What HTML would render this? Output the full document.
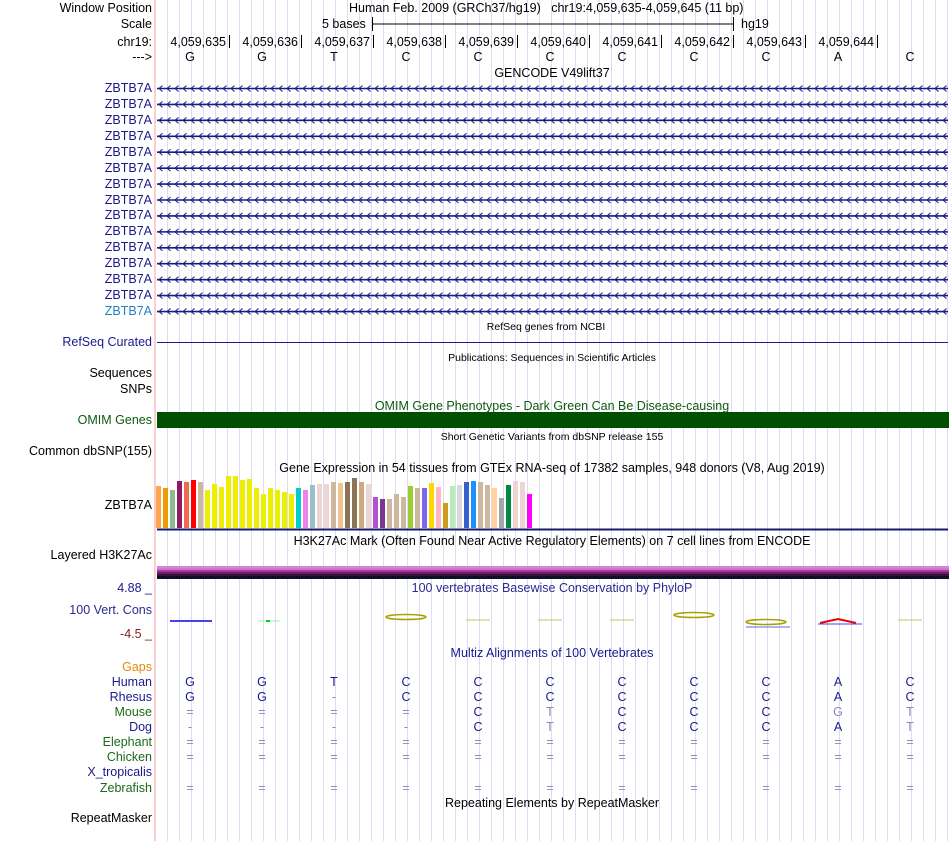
<!DOCTYPE html>
<html><head><meta charset="utf-8">
<style>
body{margin:0;background:#fff;width:950px;height:841px;overflow:hidden;font-family:"Liberation Sans",sans-serif;}
#root{position:relative;width:950px;height:841px;}
.t{position:absolute;white-space:nowrap;font-size:12.5px;line-height:14px;}
.lab{position:absolute;right:798px;white-space:nowrap;font-size:12.5px;line-height:14px;text-align:right;}
.c{transform:translateX(-50%);}
.sm{font-size:10.5px;}
</style></head>
<body><div id="root">
<svg id="svg" width="950" height="841" style="position:absolute;left:0;top:0"></svg>
</div>
<script>
// ---- data ----
const bases = ["G","G","T","C","C","C","C","C","C","A","C"];
const positions = ["4,059,635","4,059,636","4,059,637","4,059,638","4,059,639","4,059,640","4,059,641","4,059,642","4,059,643","4,059,644"];
const rhesus = ["G","G","-","C","C","C","C","C","C","A","C"];
const mouse = ["=","=","=","=","C","T","C","C","C","G","T"];
const dog = ["-","-","-","-","C","T","C","C","C","A","T"];
const gtexValues = [42,40,38,47,46,48,46,38,44,41,52,52,48,49,40,34,40,38,36,34,40,38,43,44,44,46,45,46,50,46,44,31,29,29,34,31,42,40,40,45,41,25,42,43,46,47,46,43,40,30,43,47,46,34];
const gtexColors = ["#FFA54F","#EE9A00","#8FBC8F","#8B1C62","#EE6A50","#FF0000","#CDB79E","#EEEE00","#EEEE00","#EEEE00","#EEEE00","#EEEE00","#EEEE00","#EEEE00","#EEEE00","#EEEE00","#EEEE00","#EEEE00","#EEEE00","#EEEE00","#00CDCD","#EE82EE","#9AC0CD","#EED5D2","#EED5D2","#CDB79E","#EEC591","#8B7355","#8B7355","#CDAA7D","#EED5D2","#B452CD","#7A378B","#CDB79E","#CDB79E","#CDB79E","#9ACD32","#CDB79E","#7B68EE","#FFD700","#FFB6C1","#CD9B1D","#B4EEB4","#D9D9D9","#3A5FCD","#1E90FF","#CDB79E","#CDB79E","#FFD39B","#A6A6A6","#008B45","#EED5D2","#EED5D2","#FF00FF"];

const NS="http://www.w3.org/2000/svg";
const svg=document.getElementById('svg');
const root=document.getElementById('root');
function el(tag,attrs,parent){const e=document.createElementNS(NS,tag);for(const k in attrs)e.setAttribute(k,attrs[k]);(parent||svg).appendChild(e);return e;}
function txt(s,x,y,cls,color,name){const d=document.createElement('div');d.className='t '+(cls||'');d.textContent=s;d.style.left=x+'px';d.style.top=(y-7)+'px';if(color)d.style.color=color;


root.appendChild(d);return d;}
function lab(s,y,color,name,inter){const d=document.createElement('div');d.className='lab';d.textContent=s;d.style.top=(y-7)+'px';if(color)d.style.color=color;


root.appendChild(d);return d;}
const bx=i=>190+72*i;

// grid
for(let x=167.5;x<950;x+=12){const l=el('line',{x1:x,x2:x,y1:0,y2:841,stroke:'#dcdcf4','stroke-width':1});

}
const rl=el('line',{x1:155,x2:155,y1:0,y2:841,stroke:'#f4a0a0','stroke-width':1});



// header
lab('Window Position',8,'#000','window-position-label');
lab('Scale',24,'#000','scale-label');
lab('chr19:',42,'#000','chrom-label');
lab('--->',57,'#000','strand-label');
txt('Human Feb. 2009 (GRCh37/hg19)   chr19:4,059,635-4,059,645 (11 bp)',349,8,'','#000','window-position').style.whiteSpace='pre';
txt('5 bases',322,24,'','#000','scale-text');
el('line',{x1:372,x2:733,y1:24,y2:24,stroke:'#000'});
el('line',{x1:372.5,x2:372.5,y1:17,y2:31,stroke:'#000'});
el('line',{x1:733.5,x2:733.5,y1:17,y2:31,stroke:'#000'});
txt('hg19',741,24,'','#000','assembly-label');
positions.forEach((p,i)=>{const x=229+72*i;const d=txt(p,x-3,42,'','#000','position-tick');d.style.transform='translateX(-100%)';
el('line',{x1:x+.5,x2:x+.5,y1:35,y2:48,stroke:'#000'});});
bases.forEach((b,i)=>txt(b,bx(i),57,'c','#000','base-letter'));

// GENCODE
txt('GENCODE V49lift37',552,73,'c','#000','gencode-title');
for(let r=0;r<15;r++){const y=88+r*15.93;
lab('ZBTB7A',y,r==14?'#1f7fbf':'#1a1a8c','gencode-gene-label',true);
const g=el('g',{});
el('line',{x1:157,x2:948,y1:y+.5,y2:y+.5,stroke:'#1a1a7c','stroke-width':1.6},g);
let d='';for(let x=159;x<946;x+=8){d+=`M${x+3.5},${y-2.5}L${x},${y+.5}L${x+3.5},${y+3.5}`;}
el('path',{d:d,stroke:'#1a1a8c',fill:'none','stroke-width':1},g);}
txt('RefSeq genes from NCBI',546,327,'c sm','#000','refseq-title');
lab('RefSeq Curated',342,'#1a1a8c','refseq-label',true);
el('line',{x1:157,x2:948,y1:342.5,y2:342.5,stroke:'#1a1a8c'});
txt('Publications: Sequences in Scientific Articles',552,358,'c sm','#000','publications-title');
lab('Sequences',373,'#000','sequences-label',true);
lab('SNPs',389,'#000','snps-label',true);
txt('OMIM Gene Phenotypes - Dark Green Can Be Disease-causing',552,406,'c','#0e5a0e','omim-title');
lab('OMIM Genes',420,'#0e5a0e','omim-label',true);
const om=el('rect',{x:157,y:412,width:792,height:16,fill:'#005000'});

txt('Short Genetic Variants from dbSNP release 155',552,437,'c sm','#000','dbsnp-title');
lab('Common dbSNP(155)',451,'#000','dbsnp-label',true);
txt('Gene Expression in 54 tissues from GTEx RNA-seq of 17382 samples, 948 donors (V8, Aug 2019)',552,468,'c','#000','gtex-title');
lab('ZBTB7A',505,'#000','gtex-label',true);
// GTEx bars
const base=528, pitch=7, scale=1.0;
const yv=v=>base-v*scale;
gtexValues.forEach((v,i)=>{const r=el('rect',{x:156+i*pitch,y:yv(v),width:5,height:base-yv(v),fill:gtexColors[i]});

});
el('line',{x1:157,x2:948,y1:529.5,y2:529.5,stroke:'#1a1a6c','stroke-width':2});
txt('H3K27Ac Mark (Often Found Near Active Regulatory Elements) on 7 cell lines from ENCODE',552,541,'c','#000','h3k27ac-title');
lab('Layered H3K27Ac',555,'#000','h3k27ac-label',true);
[['#c88ae0',2],['#e070c0',2],['#a03ca0',2],['#6a1f6a',2],['#3a103a',2],['#101028',3]].reduce((y,[c,h])=>{el('rect',{x:157,y:y,width:792,height:h,fill:c});return y+h;},566);
// conservation
lab('4.88 _',588,'#1a1a8c','cons-max-label');
txt('100 vertebrates Basewise Conservation by PhyloP',552,588,'c','#2a2a90','phylop-title');
lab('100 Vert. Cons',610,'#2a2a90','cons-label',true);
lab('-4.5 _',634,'#8b1a1a','cons-min-label');
el('line',{x1:170,x2:212,y1:621,y2:621,stroke:'#4444ee','stroke-width':2});
el('line',{x1:258,x2:280,y1:621,y2:621,stroke:'#aaeeaa'});
el('rect',{x:266,y:620,width:4,height:2,fill:'#00dd00'});
el('ellipse',{cx:406,cy:617,rx:20,ry:2.5,stroke:'#a8a000',fill:'none','stroke-width':1.5});
[478,550,622,910].forEach(x=>el('line',{x1:x-12,x2:x+12,y1:620,y2:620,stroke:'#c8c460'}));
el('ellipse',{cx:694,cy:615,rx:20,ry:2.5,stroke:'#a8a000',fill:'none','stroke-width':1.5});
el('ellipse',{cx:766,cy:622,rx:20,ry:2.5,stroke:'#a8a000',fill:'none','stroke-width':1.5});
el('line',{x1:746,x2:790,y1:627,y2:627,stroke:'#6666ee'});
el('path',{d:'M820,623L838,619L856,623',stroke:'#ee0000',fill:'none','stroke-width':2});
el('line',{x1:818,x2:862,y1:624,y2:624,stroke:'#4444ee'});
// multiz
txt('Multiz Alignments of 100 Vertebrates',552,653,'c','#1a1a8c','multiz-title');
const species=[['Gaps',667,'#e08a10'],['Human',682,'#1a1a8c'],['Rhesus',697,'#1a1a8c'],['Mouse',712,'#1a6b1a'],['Dog',727,'#1a1a8c'],['Elephant',742,'#1a6b1a'],['Chicken',757,'#1a6b1a'],['X_tropicalis',772,'#1a1a8c'],['Zebrafish',788,'#1a6b1a']];
species.forEach(s=>lab(s[0],s[1],s[2],'species-label',true));
const rows={682:bases,697:rhesus,712:mouse,727:dog,742:Array(11).fill('='),757:Array(11).fill('='),788:Array(11).fill('=')};
for(const y in rows){rows[y].forEach((b,i)=>{let col='#1a1a8c';if(b=='='||b=='-')col='#8888bb';else if(+y>697&&b!==bases[i])col='#8888bb';txt(b,bx(i),+y,'c',col,'alignment-base');});}
txt('Repeating Elements by RepeatMasker',552,803,'c','#000','repeatmasker-title');
lab('RepeatMasker',818,'#000','repeatmasker-label',true);
</script></body></html>
